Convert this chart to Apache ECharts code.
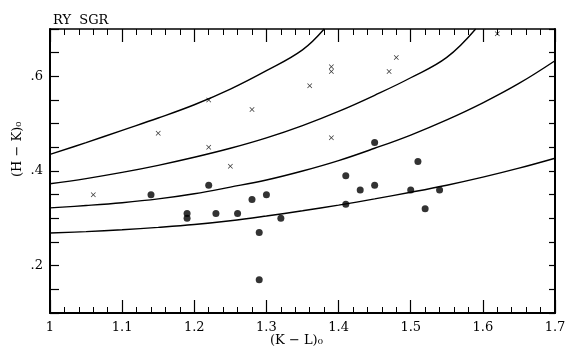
<!DOCTYPE html>
<html><head><meta charset="utf-8">
<script src="https://cdn.jsdelivr.net/npm/echarts@6/dist/echarts.min.js"></script>
<style>html,body{margin:0;padding:0;background:#fff}#c{width:570px;height:353px}</style>
</head><body><div id="c"></div>
<script>
// Crosses (x markers)
const crossK = [1.06, 1.15, 1.22, 1.22, 1.25, 1.28, 1.36, 1.39, 1.39, 1.39, 1.47, 1.48, 1.62];
const crossH = [0.35, 0.48, 0.55, 0.45, 0.41, 0.53, 0.58, 0.62, 0.61, 0.47, 0.61, 0.64, 0.69];
// Filled dots
const dotK = [1.14, 1.19, 1.19, 1.22, 1.23, 1.26, 1.28, 1.29, 1.29, 1.30, 1.32, 1.41, 1.41, 1.43, 1.45, 1.45, 1.50, 1.51, 1.52, 1.54];
const dotH = [0.35, 0.31, 0.30, 0.37, 0.31, 0.31, 0.34, 0.27, 0.17, 0.35, 0.30, 0.39, 0.33, 0.36, 0.46, 0.37, 0.36, 0.42, 0.32, 0.36];
// Model curves
const curve1K = [1.00, 1.05, 1.10, 1.15, 1.20, 1.25, 1.30, 1.35, 1.38];
const curve1H = [0.435, 0.460, 0.486, 0.512, 0.540, 0.573, 0.612, 0.656, 0.700];
const curve2K = [1.00, 1.05, 1.10, 1.15, 1.20, 1.25, 1.30, 1.35, 1.40, 1.45, 1.50, 1.55, 1.59];
const curve2H = [0.373, 0.384, 0.397, 0.412, 0.429, 0.448, 0.470, 0.496, 0.526, 0.560, 0.597, 0.640, 0.700];
const curve3K = [1.00, 1.05, 1.10, 1.15, 1.20, 1.25, 1.30, 1.35, 1.40, 1.45, 1.50, 1.55, 1.60, 1.65, 1.70];
const curve3H = [0.322, 0.327, 0.333, 0.341, 0.352, 0.366, 0.381, 0.400, 0.422, 0.448, 0.476, 0.508, 0.544, 0.585, 0.633];
const curve4K = [1.00, 1.05, 1.10, 1.15, 1.20, 1.25, 1.30, 1.35, 1.40, 1.45, 1.50, 1.55, 1.60, 1.65, 1.70];
const curve4H = [0.269, 0.272, 0.276, 0.281, 0.287, 0.295, 0.305, 0.316, 0.328, 0.341, 0.355, 0.370, 0.387, 0.406, 0.427];
const xTickLabels = {1: '1', 1.1: '1.1', 1.2: '1.2', 1.3: '1.3', 1.4: '1.4', 1.5: '1.5', 1.6: '1.6', 1.7: '1.7'};
const yTickLabels = {0.2: '.2', 0.4: '.4', 0.6: '.6'};

const FONT = '"DejaVu Serif", "Liberation Serif", serif';
const zip = (a, b) => a.map((v, i) => [v, b[i]]);
const crossPath = 'path://M0,1L1,0L5,4L9,0L10,1L6,5L10,9L9,10L5,6L1,10L0,9L4,5Z';

const lineSeries = (k, h) => ({
  type: 'line', data: zip(k, h), smooth: 0.4, symbol: 'none', clip: true,
  lineStyle: {color: '#000', width: 1.4}, z: 3
});

const chart = echarts.init(document.getElementById('c'), null, {renderer: 'canvas'});
chart.setOption({
  animation: false,
  backgroundColor: '#fff',
  title: {text: 'RY  SGR', left: 48, top: 9, textStyle: {fontFamily: FONT, fontSize: 13, fontWeight: 'normal', color: '#000'}},
  grid: {left: 50, right: 15, top: 29, bottom: 40},
  xAxis: [{
    type: 'value', min: 1, max: 1.7, interval: 0.1,
    axisLine: {lineStyle: {color: '#000', width: 2}},
    axisTick: {inside: true, length: 13, lineStyle: {color: '#000', width: 1.2}},
    minorTick: {show: true, splitNumber: 5, length: 6, lineStyle: {color: '#000', width: 1}},
    axisLabel: {margin: 8, color: '#000', fontFamily: FONT, fontSize: 13,
      formatter: v => xTickLabels[Math.round(v * 10) / 10] || ''},
    splitLine: {show: false}
  }, {
    type: 'value', position: 'top', min: 1, max: 1.7, interval: 0.1,
    axisLine: {lineStyle: {color: '#000', width: 1.5}},
    axisTick: {inside: true, length: 13, lineStyle: {color: '#000', width: 1.2}},
    minorTick: {show: true, splitNumber: 5, length: 6, lineStyle: {color: '#000', width: 1}},
    axisLabel: {show: false}, splitLine: {show: false}
  }],
  yAxis: [{
    type: 'value', min: 0.1, max: 0.7, interval: 0.05,
    axisLine: {lineStyle: {color: '#000', width: 2}},
    axisTick: {inside: true, length: 9, lineStyle: {color: '#000', width: 1.2}},
    axisLabel: {margin: 7, color: '#000', fontFamily: FONT, fontSize: 13,
      formatter: v => yTickLabels[Math.round(v * 100) / 100] || ''},
    splitLine: {show: false}
  }, {
    type: 'value', position: 'right', min: 0.1, max: 0.7, interval: 0.05,
    axisLine: {lineStyle: {color: '#000', width: 2}},
    axisTick: {inside: true, length: 6, lineStyle: {color: '#000', width: 1.2}},
    axisLabel: {show: false}, splitLine: {show: false}
  }],
  graphic: [
    {type: 'text', left: 270, top: 334, style: {text: '(K − L)₀', font: '13px ' + FONT, fill: '#000'}},
    {type: 'text', x: 11, y: 177, rotation: Math.PI / 2, style: {text: '(H − K)₀', font: '13px ' + FONT, fill: '#000', align: 'left', verticalAlign: 'top'}}
  ],
  series: [
    lineSeries(curve1K, curve1H),
    lineSeries(curve2K, curve2H),
    lineSeries(curve3K, curve3H),
    lineSeries(curve4K, curve4H),
    {type: 'scatter', data: zip(crossK, crossH), symbol: crossPath, symbolSize: 5,
      itemStyle: {color: '#000'}, z: 4},
    {type: 'scatter', data: zip(dotK, dotH), symbol: 'circle', symbolSize: 7,
      itemStyle: {color: '#000'}, z: 4}
  ]
});
</script></body></html>
